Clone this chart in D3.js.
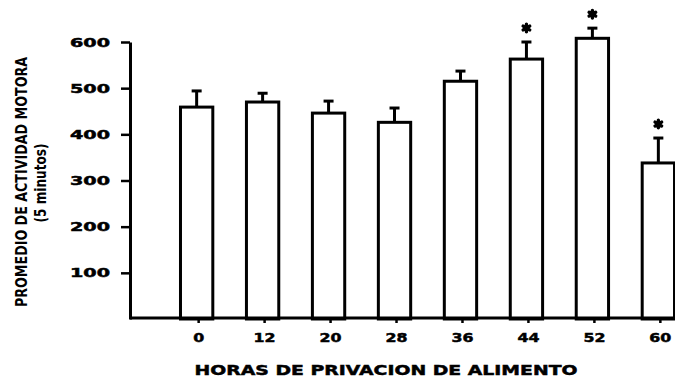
<!DOCTYPE html>
<html>
<head>
<meta charset="utf-8">
<script src="https://cdn.jsdelivr.net/npm/d3@7"></script>
<style>
  html, body { margin: 0; padding: 0; background: #fff; }
  svg { display: block; }
</style>
</head>
<body>
<svg id="chart" width="675" height="377"></svg>
<script>
// Hours of food deprivation (x categories)
const hours = ["0", "12", "20", "28", "36", "44", "52", "60"];
// Mean motor activity per 5 minutes
const meanActivity = [459, 470, 446, 426, 515, 563, 608, 338];
// Standard error (drawn upward only)
const stdError = [35, 19, 26, 31, 22, 37, 22, 54];
// Groups marked as significantly different
const significant = [false, false, false, false, false, true, true, true];
// Y axis tick values
const yTicks = [100, 200, 300, 400, 500, 600];

const rows = hours.map((h, i) => ({
  hour: h, mean: meanActivity[i], se: stdError[i], sig: significant[i]
}));

const svg = d3.select("#chart");
const W = 675, H = 377;
const axisX = 130;

const y = d3.scaleLinear().domain([0, 600]).range([319, 42]);
const x = d3.scaleBand().domain(hours).range([164, 691])
  .paddingInner(0.51).paddingOuter(0.25);

const ink = "#000";

// Bars
svg.append("g").selectAll("rect").data(rows).join("rect")
  .attr("x", d => x(d.hour))
  .attr("y", d => y(d.mean))
  .attr("width", x.bandwidth())
  .attr("height", d => y(0) - y(d.mean))
  .attr("fill", "#fff")
  .attr("stroke", ink)
  .attr("stroke-width", 3);

// Error bars
const eb = svg.append("g");
eb.selectAll("line.stem").data(rows).join("line")
  .attr("class", "stem")
  .attr("x1", d => x(d.hour) + x.bandwidth() / 2)
  .attr("x2", d => x(d.hour) + x.bandwidth() / 2)
  .attr("y1", d => y(d.mean))
  .attr("y2", d => y(d.mean + d.se))
  .attr("stroke", ink).attr("stroke-width", 3);
eb.selectAll("line.cap").data(rows).join("line")
  .attr("class", "cap")
  .attr("x1", d => x(d.hour) + x.bandwidth() / 2 - 5)
  .attr("x2", d => x(d.hour) + x.bandwidth() / 2 + 5)
  .attr("y1", d => y(d.mean + d.se))
  .attr("y2", d => y(d.mean + d.se))
  .attr("stroke", ink).attr("stroke-width", 3);

// Significance asterisks (filled, heavy)
const stars = svg.append("g").selectAll("g").data(rows.filter(d => d.sig)).join("g")
  .attr("transform", d => `translate(${x(d.hour) + x.bandwidth() / 2},${y(d.mean + d.se) - 14})`);
stars.append("path")
  .attr("d", d3.symbol(d3.symbolAsterisk, 40))
  .attr("fill", "none")
  .attr("stroke", ink)
  .attr("stroke-width", 3.4)
  .attr("stroke-linecap", "round");
stars.append("ellipse")
  .attr("rx", 3.5).attr("ry", 2.8)
  .attr("fill", ink);

const heavy = sel => sel.attr("stroke", ink).attr("stroke-width", 0.5);

// Y axis
const yAxis = svg.append("g")
  .attr("transform", `translate(${axisX},0)`)
  .call(d3.axisLeft(y).tickValues(yTicks).tickSize(9).tickSizeOuter(0).tickPadding(11));
yAxis.select(".domain").attr("stroke", ink).attr("stroke-width", 3);
yAxis.selectAll(".tick line").attr("stroke", ink).attr("stroke-width", 2.5);
yAxis.selectAll(".tick text")
  .attr("font-family", "'DejaVu Sans', sans-serif")
  .attr("font-weight", "bold")
  .attr("font-size", 12.5)
  .attr("fill", ink)
  .attr("textLength", 40)
  .attr("lengthAdjust", "spacingAndGlyphs")
  .call(heavy);

// X baseline
svg.append("line")
  .attr("x1", axisX).attr("x2", W)
  .attr("y1", y(0) - 1).attr("y2", y(0) - 1)
  .attr("stroke", ink).attr("stroke-width", 3);

// X axis ticks and labels
const xAxis = svg.append("g")
  .attr("transform", `translate(2,${y(0) - 1})`)
  .call(d3.axisBottom(x).tickSize(5).tickPadding(10));
xAxis.select(".domain").remove();
xAxis.selectAll(".tick line").attr("stroke", ink).attr("stroke-width", 2.5);
xAxis.selectAll(".tick text")
  .attr("font-family", "'DejaVu Sans', sans-serif")
  .attr("font-weight", "bold")
  .attr("font-size", 13)
  .attr("fill", ink)
  .attr("textLength", d => 11 * d.length)
  .attr("lengthAdjust", "spacingAndGlyphs")
  .call(heavy);

// X axis title
svg.append("text")
  .attr("x", 386).attr("y", 375)
  .attr("text-anchor", "middle")
  .attr("font-family", "'DejaVu Sans', sans-serif")
  .attr("font-weight", "bold")
  .attr("font-size", 14.5)
  .attr("fill", ink)
  .attr("textLength", 383)
  .attr("lengthAdjust", "spacingAndGlyphs")
  .call(heavy)
  .text("HORAS DE PRIVACION DE ALIMENTO");

// Y axis title (two lines)
svg.append("text")
  .attr("transform", "translate(27,182) rotate(-90)")
  .attr("text-anchor", "middle")
  .attr("font-family", "'Liberation Sans Narrow', 'DejaVu Sans Condensed', sans-serif")
  .attr("font-weight", "bold")
  .attr("font-size", 15.5)
  .attr("fill", ink)
  .attr("textLength", 250)
  .attr("lengthAdjust", "spacingAndGlyphs")
  .text("PROMEDIO DE ACTIVIDAD MOTORA");
svg.append("text")
  .attr("transform", "translate(46,183) rotate(-90)")
  .attr("text-anchor", "middle")
  .attr("font-family", "'Liberation Sans Narrow', 'DejaVu Sans Condensed', sans-serif")
  .attr("font-weight", "bold")
  .attr("font-size", 16.5)
  .attr("fill", ink)
  .attr("textLength", 79)
  .attr("lengthAdjust", "spacingAndGlyphs")
  .text("(5 minutos)");
</script>
</body>
</html>
